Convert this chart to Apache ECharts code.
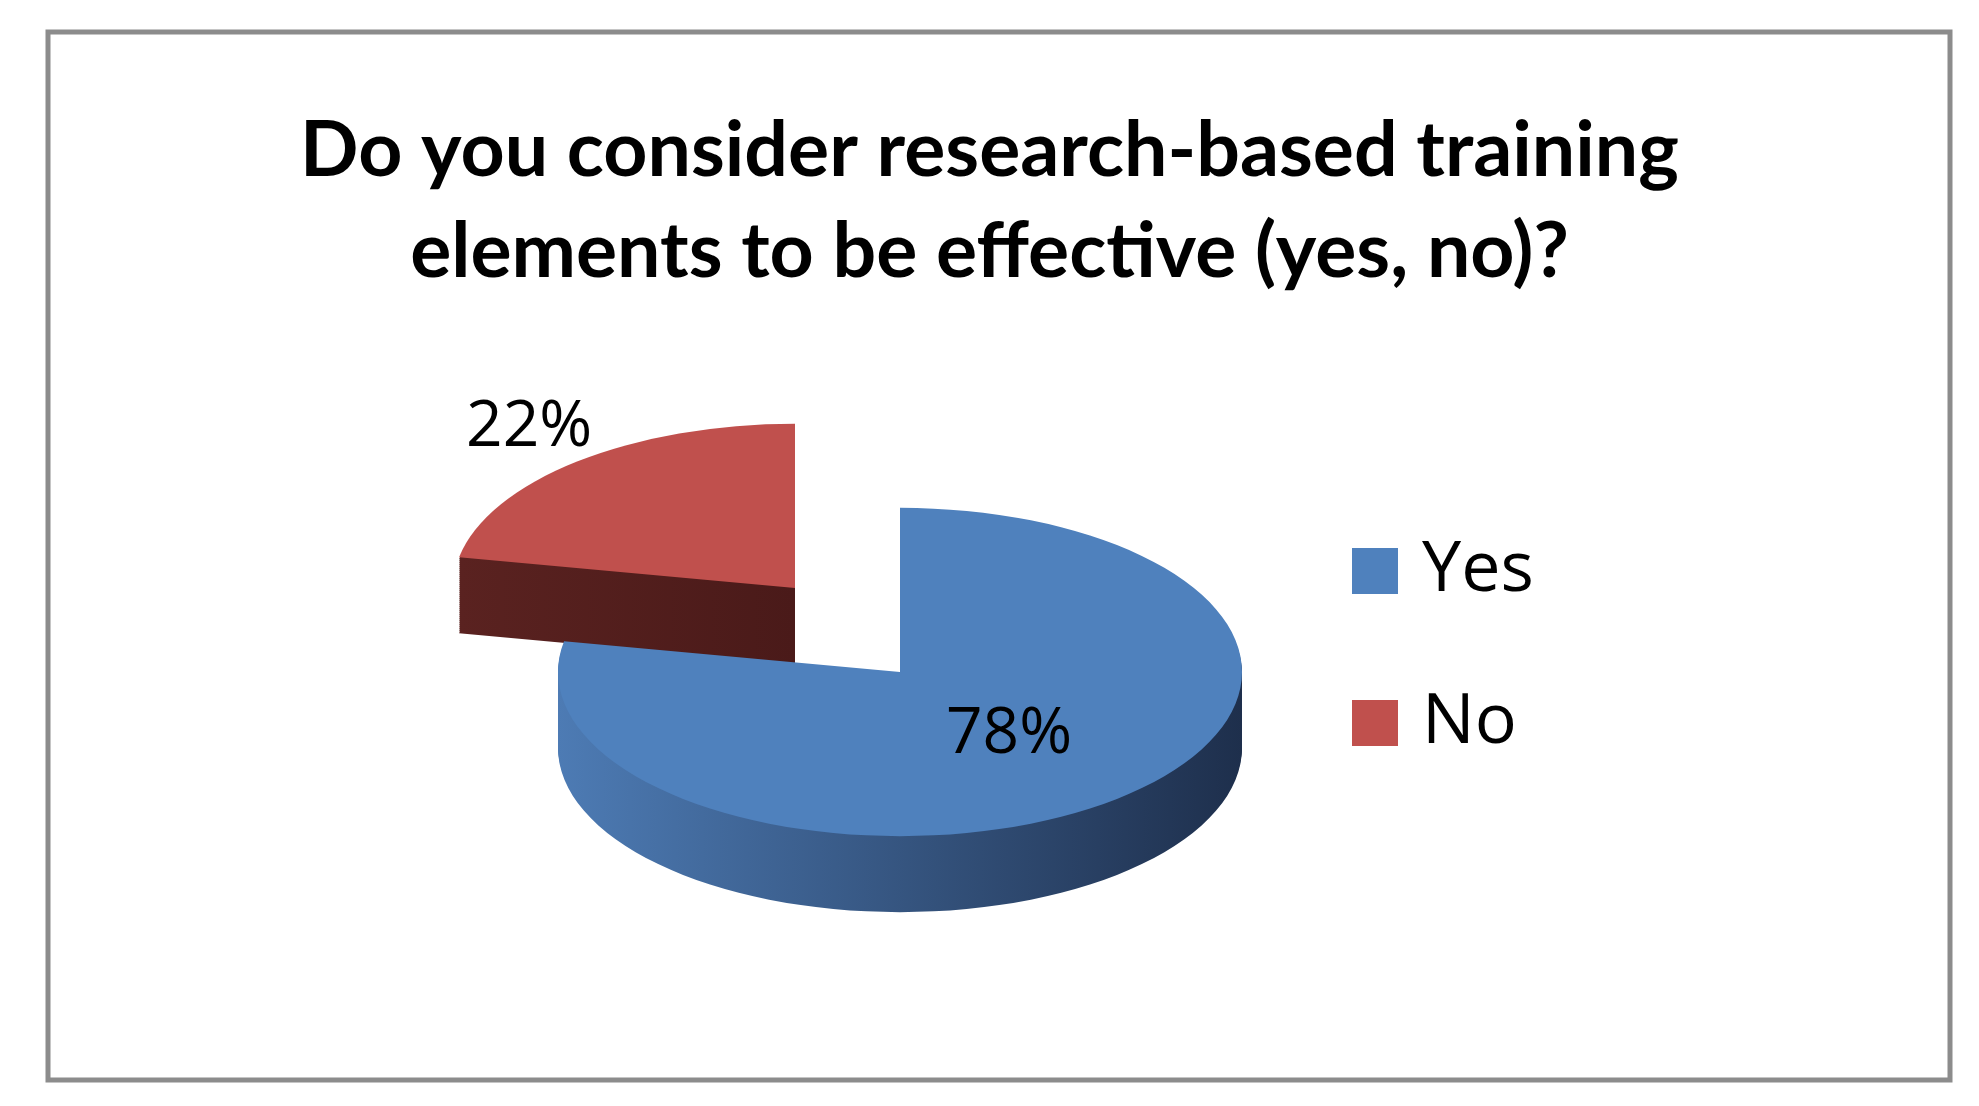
<!DOCTYPE html>
<html>
<head>
<meta charset="UTF-8" />
<script type="text/javascript" src="https://cdn.jsdelivr.net/npm/echarts@6/dist/echarts.min.js"></script>
<style>
  body { margin: 0; background: #fff; }
  #chartmain { width: 1979px; height: 1106px; }
</style>
</head>
<body>
<div id="chartmain"></div>
<script type="text/javascript">
	// data
	var categories = ['Yes', 'No'];
	var values = [78, 22];
	var topColors = ['#4F81BD', '#C0504D'];
	var wallColors = [['#4d7bb4', '#1e2f4c'], ['#5a2220', '#4a1a19']];

	var cx = 900, cy = 672, r = 342, squash = 0.48, depth = 76;
	var total = values.reduce(function (a, b) { return a + b; }, 0);

	function sliceGroup(i) {
		var start = -Math.PI / 2;
		for (var k = 0; k < i; k++) start += values[k] / total * Math.PI * 2;
		var end = start + values[i] / total * Math.PI * 2;
		var mid = (start + end) / 2;
		var ox = cx + (i === 1 ? -105 : 0);
		var oy = cy + (i === 1 ? -84 : 0);
		var children = [];
		// side wall: stacked sectors
		for (var d = depth; d > 0; d -= 2) {
			children.push({
				type: 'sector',
				shape: { cx: 0, cy: d / squash, r: r, r0: 0, startAngle: start, endAngle: end },
				style: { fill: new echarts.graphic.LinearGradient(0, 0, 1, 0, [
					{ offset: 0, color: wallColors[i][0] }, { offset: 1, color: wallColors[i][1] }]) }
			});
		}
		children.push({
			type: 'sector',
			shape: { cx: 0, cy: 0, r: r, r0: 0, startAngle: start, endAngle: end },
			style: { fill: topColors[i] }
		});
		var group = { type: 'group', x: ox, y: oy, scaleY: squash, children: children };
		var kLab = i === 0 ? 0.5 : 1.55;
		var label = {
			type: 'text',
			x: ox + Math.cos(mid) * r * kLab + (i === 1 ? 72 : 0),
			y: oy + Math.sin(mid) * r * kLab * squash + (i === 1 ? 36 : 0),
			style: { text: values[i] + '%', font: '64px "Open Sans", sans-serif', fill: '#000',
				align: 'center', verticalAlign: 'middle' }
		};
		return [group, label];
	}

	var option = {
		backgroundColor: '#fff',
		title: {
			text: 'Do you consider research-based training\nelements to be effective (yes, no)?',
			left: 'center', top: 96,
			textStyle: { fontFamily: 'Lato', fontWeight: 'bold', fontSize: 77, lineHeight: 101, color: '#000' }
		},
		graphic: [
			{ type: 'rect', shape: { x: 48, y: 32, width: 1902, height: 1048 },
			  style: { fill: 'none', stroke: '#8c8c8c', lineWidth: 5 } }
		].concat(categories.map(function (c, i) {
			return { type: 'group', x: 1352, y: 571 + i * 152, children: [
				{ type: 'rect', shape: { x: 0, y: -23, width: 46, height: 46 }, style: { fill: topColors[i] } },
				{ type: 'text', x: 70, y: 0, style: { text: c, font: '70px "Open Sans", sans-serif',
					fill: '#000', verticalAlign: 'middle' } }
			] };
		})),
		series: [{
			type: 'custom',
			coordinateSystem: 'none',
			data: [0],
			renderItem: function () {
				var ch = [];
				for (var i = categories.length - 1; i >= 0; i--) ch = ch.concat(sliceGroup(i));
				return { type: 'group', children: ch };
			}
		}]
	};
	var myChart = echarts.init(document.getElementById('chartmain'));
	myChart.setOption(option);
</script>
</body>
</html>
